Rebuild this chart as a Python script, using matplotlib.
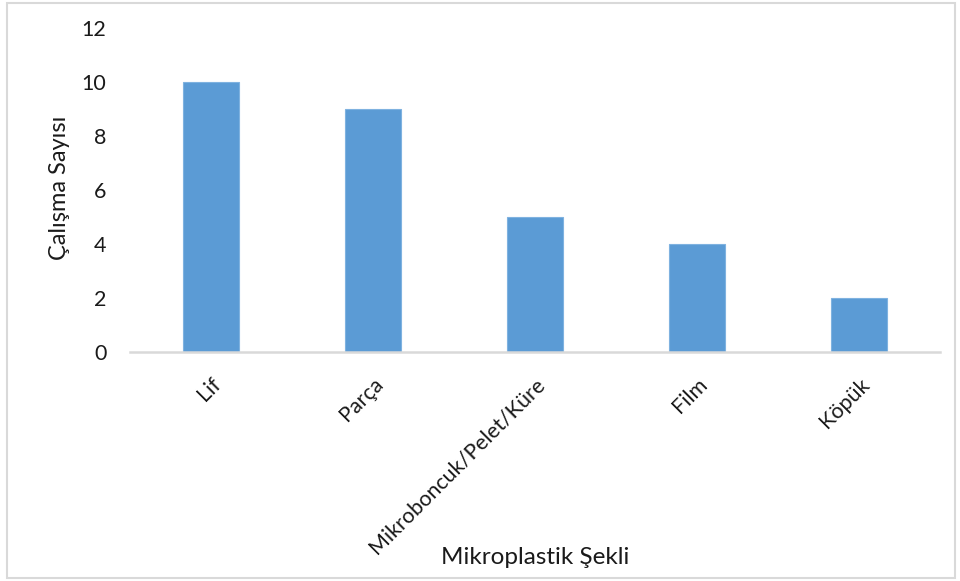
import matplotlib.pyplot as plt
from matplotlib.patches import Rectangle

# Microplastic shape vs number of studies
categories = ['Lif', 'Parça', 'Mikroboncuk/Pelet/Küre', 'Film', 'Köpük']
counts = [10, 9, 5, 4, 2]
y_ticks = [0, 2, 4, 6, 8, 10, 12]

plt.rcParams['font.family'] = ['Lato', 'DejaVu Sans']
FS = 15.5
TXT = '#1a1a1a'

fig = plt.figure(figsize=(9.6, 5.81), dpi=100)
ax = fig.add_axes([130 / 960, 1 - 352 / 581, 810 / 960, 324 / 581])

x = range(len(categories))
ax.bar(x, counts, width=0.35, color='#5B9BD5', edgecolor='#7FB2E0', linewidth=0.8)

ax.set_xlim(-0.5, len(categories) - 0.5)
ax.set_ylim(0, 12)
ax.set_yticks(y_ticks)
ax.set_xticks(list(x))
ax.set_xticklabels(categories, rotation=45, ha='right', va='top',
                   rotation_mode='anchor', fontsize=FS, color=TXT)
ax.tick_params(axis='y', labelsize=FS, labelcolor=TXT, length=0, pad=17)
ax.tick_params(axis='x', length=0, pad=16)

for side in ['top', 'right', 'left']:
    ax.spines[side].set_visible(False)
ax.spines['bottom'].set_color('#d9d9d9')
ax.spines['bottom'].set_linewidth(1.8)

ax.set_ylabel('Çalışma Sayısı', fontsize=17, color=TXT, va='center')
ax.yaxis.set_label_coords(-70 / 810, 0.506)
fig.text(535 / 960, 1 - 557 / 581, 'Mikroplastik Şekli', fontsize=17.5,
         color=TXT, ha='center', va='center')

# outer chart frame
fig.patches.append(Rectangle((7 / 960, 3 / 581), 948 / 960, 575 / 581,
                             transform=fig.transFigure, fill=False,
                             edgecolor='#d9d9d9', linewidth=1.5))

fig.savefig('out.png', dpi=100)
